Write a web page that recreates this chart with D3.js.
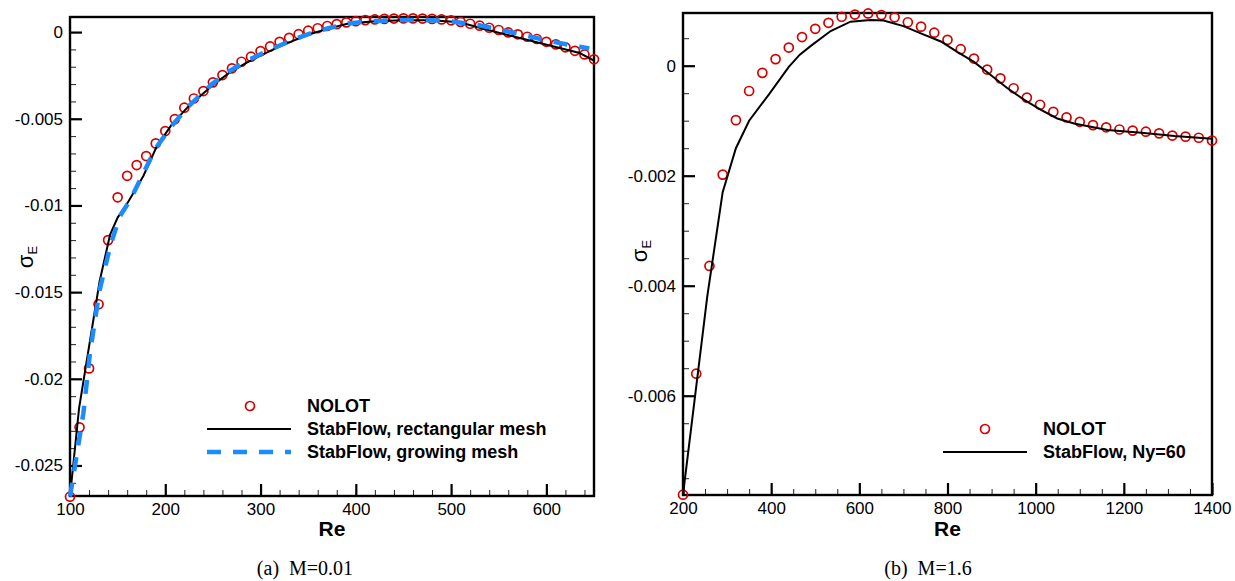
<!DOCTYPE html>
<html>
<head>
<meta charset="utf-8">
<script src="https://cdn.jsdelivr.net/npm/d3@7"></script>
<style>
  body { margin: 0; background: #fff; }
  svg text { font-family: "Liberation Sans", Arial, Helvetica, sans-serif; }
</style>
</head>
<body>
<svg id="chart" width="1235" height="581"></svg>
<script>
// ---- panel (a): M=0.01 ----
const nolotReA = [100, 110, 120, 130, 140, 150, 160, 170, 180, 190,
                  200, 210, 220, 230, 240, 250, 260, 270, 280, 290,
                  300, 310, 320, 330, 340, 350, 360, 370, 380, 390,
                  400, 410, 420, 430, 440, 450, 460, 470, 480, 490,
                  500, 510, 520, 530, 540, 550, 560, 570, 580, 590,
                  600, 610, 620, 630, 640, 650];
const nolotSigmaA = [-0.0268, -0.0228, -0.0194, -0.0157, -0.0120, -0.00953, -0.00829, -0.00767, -0.00715, -0.00642,
                     -0.00571, -0.00502, -0.00436, -0.00383, -0.0034, -0.0029, -0.00248, -0.00209, -0.00171, -0.00142,
                     -0.0011, -0.00083, -0.00056, -0.00033, -0.00012, 0.00008, 0.00022, 0.00035, 0.00046, 0.00056,
                     0.00063, 0.00069, 0.00073, 0.00076, 0.00078, 0.00079, 0.00079, 0.00078, 0.00076, 0.00073,
                     0.00068, 0.00059, 0.00048, 0.00037, 0.00025, 0.00012, -0.00002, -0.00013, -0.00027, -0.0004,
                     -0.00056, -0.00071, -0.00088, -0.00108, -0.00129, -0.00157];

const rectReA = [100, 109.5, 131, 142, 150, 161, 177, 191, 206, 224, 249, 266, 284, 301, 319, 336, 354, 371, 392,
                 420, 450, 480, 509, 530, 551, 572, 593, 614, 635, 650];
const rectSigmaA = [-0.0268, -0.0217, -0.0144, -0.0117, -0.0107, -0.0098, -0.0083, -0.0066, -0.0054, -0.0043,
                    -0.0031, -0.0024, -0.0018, -0.00133, -0.00085, -0.00046, -0.00008, 0.0002, 0.0005,
                    0.00063, 0.00068, 0.00068, 0.00057, 0.00025, -0.00005, -0.00034, -0.00063, -0.00092, -0.00121, -0.00165];

const growReA = [100, 105, 114, 121, 131, 142, 152, 163, 177, 190, 207, 224, 249, 266, 284, 301, 319, 336, 354,
                 371, 392, 411, 441, 471, 495, 523, 551, 579, 607, 635, 645];
const growSigmaA = [-0.0268, -0.0251, -0.0220, -0.0185, -0.0149, -0.0124, -0.01065, -0.0097, -0.00815, -0.0067,
                    -0.0054, -0.0043, -0.0030, -0.0023, -0.0017, -0.00125, -0.0008, -0.0004, -0.00005,
                    0.00022, 0.0005, 0.0006, 0.00069, 0.00069, 0.00065, 0.00046, 0.00015, -0.00021, -0.00056, -0.00085, -0.00095];

const xTicksA = [100, 200, 300, 400, 500, 600];
const yTicksA = [0, -0.005, -0.01, -0.015, -0.02, -0.025];
const yTickLabelsA = ["0", "-0.005", "-0.01", "-0.015", "-0.02", "-0.025"];

// ---- panel (b): M=1.6 ----
const nolotReB = [200, 230, 260, 290, 320, 350, 380, 410, 440, 470,
                  500, 530, 560, 590, 620, 650, 680, 710, 740, 770,
                  800, 830, 860, 890, 920, 950, 980, 1010, 1040, 1070,
                  1100, 1130, 1160, 1190, 1220, 1250, 1280, 1310, 1340, 1370, 1400];
const nolotSigmaB = [-0.0078, -0.0056, -0.00364, -0.00198, -0.00099, -0.00046, -0.00013, 0.00012, 0.00033, 0.00052,
                     0.00067, 0.00078, 0.00089, 0.00093, 0.00095, 0.00092, 0.00088, 0.00079, 0.00071, 0.0006,
                     0.00047, 0.0003, 0.00013, -0.00007, -0.00023, -0.00041, -0.00058, -0.00071, -0.00084, -0.00094,
                     -0.00102, -0.00108, -0.00112, -0.00116, -0.00118, -0.0012, -0.00123, -0.00127, -0.00129, -0.00131, -0.00136];

const stabReB = [200, 255, 290, 320, 350, 395, 440, 465, 490, 535, 580, 625, 655, 700, 745, 785, 822, 860, 898, 936,
                 974, 1011, 1049, 1087, 1125, 1163, 1240, 1315, 1400];
const stabSigmaB = [-0.0078, -0.0042, -0.0023, -0.0015, -0.0010, -0.00052, -0.00002, 0.0002, 0.00036, 0.00063, 0.0008, 0.00083,
                    0.00082, 0.00072, 0.00057, 0.00044, 0.00025, 0.00007, -0.00017, -0.00041, -0.00062, -0.0008,
                    -0.00096, -0.00105, -0.00111, -0.00117, -0.00122, -0.00128, -0.00133];

const xTicksB = [200, 400, 600, 800, 1000, 1200, 1400];
const yTicksB = [0, -0.002, -0.004, -0.006];
const yTickLabelsB = ["0", "-0.002", "-0.004", "-0.006"];

const red = "#d40000", blue = "#1a8cff";
const svg = d3.select("#chart");

function zip(a, b) { return a.map((v, i) => [v, b[i]]); }

function drawPanel(p) {
  const g = svg.append("g");
  const x = d3.scaleLinear().domain(p.xDomain).range([p.left, p.right]);
  const y = d3.scaleLinear().domain(p.yDomain).range([p.bottom, p.top]);

  // minor ticks
  g.append("g").attr("transform", `translate(0,${p.bottom})`)
    .call(d3.axisBottom(x).tickValues(p.xMinor).tickSize(-6).tickSizeOuter(0).tickFormat(""))
    .call(a => a.select(".domain").remove())
    .call(a => a.selectAll("line").attr("stroke", "#222").attr("stroke-width", 1));
  g.append("g").attr("transform", `translate(${p.left},0)`)
    .call(d3.axisLeft(y).tickValues(p.yMinor).tickSize(-6).tickSizeOuter(0).tickFormat(""))
    .call(a => a.select(".domain").remove())
    .call(a => a.selectAll("line").attr("stroke", "#222").attr("stroke-width", 1));

  // major ticks
  g.append("g").attr("transform", `translate(0,${p.bottom})`)
    .call(d3.axisBottom(x).tickValues(p.xTicks).tickSize(-12).tickSizeOuter(0).tickPadding(7)
      .tickFormat(d => String(d)))
    .call(a => a.select(".domain").remove())
    .call(a => a.selectAll("line").attr("stroke", "#000").attr("stroke-width", 2.2))
    .call(a => a.selectAll("text").attr("font-size", 17).attr("fill", "#000")
      .style("font-family", "'Liberation Sans', Arial, sans-serif"));
  g.append("g").attr("transform", `translate(${p.left},0)`)
    .call(d3.axisLeft(y).tickValues(p.yTicks).tickSize(-12).tickSizeOuter(0).tickPadding(7)
      .tickFormat((d, i) => p.yTickLabels[i]))
    .call(a => a.select(".domain").remove())
    .call(a => a.selectAll("line").attr("stroke", "#000").attr("stroke-width", 2.2))
    .call(a => a.selectAll("text").attr("font-size", 17).attr("fill", "#000")
      .style("font-family", "'Liberation Sans', Arial, sans-serif"));

  // frame
  g.append("rect")
    .attr("x", p.left).attr("y", p.top)
    .attr("width", p.right - p.left).attr("height", p.bottom - p.top)
    .attr("fill", "none").attr("stroke", "#000").attr("stroke-width", 2.4);

  const line = d3.line().x(d => x(d[0])).y(d => y(d[1]));

  // symbols
  g.append("g").selectAll("circle")
    .data(zip(p.nolotRe, p.nolotSigma))
    .join("circle")
    .attr("cx", d => x(d[0])).attr("cy", d => y(d[1])).attr("r", 4.5)
    .attr("fill", "none").attr("stroke", red).attr("stroke-width", 1.7);

  p.lines.forEach(s => {
    g.append("path").datum(zip(s.re, s.sigma))
      .attr("d", line).attr("fill", "none")
      .attr("stroke", s.color).attr("stroke-width", s.width)
      .attr("stroke-dasharray", s.dash || null);
  });

  // legend
  const lg = g.append("g").attr("transform", `translate(${p.legend[0]},${p.legend[1]})`);
  lg.append("circle").attr("cx", p.legendSym).attr("cy", 0).attr("r", 4.5)
    .attr("fill", "none").attr("stroke", red).attr("stroke-width", 1.7);
  lg.append("text").attr("x", 100).attr("y", 0).attr("dy", "0.35em")
    .attr("font-size", 18).attr("font-weight", "bold").text("NOLOT");
  p.lines.forEach((s, i) => {
    const yy = 23 * (i + 1);
    lg.append("line").attr("x1", 0).attr("x2", 84).attr("y1", yy).attr("y2", yy)
      .attr("stroke", s.color).attr("stroke-width", s.width)
      .attr("stroke-dasharray", s.dash || null);
    lg.append("text").attr("x", 100).attr("y", yy).attr("dy", "0.35em")
      .attr("font-size", 18).attr("font-weight", "bold").text(s.name);
  });

  // axis titles
  g.append("text").attr("x", (p.left + p.right) / 2).attr("y", 536)
    .attr("text-anchor", "middle").attr("font-size", 21).attr("font-weight", "bold").text("Re");
  const yl = g.append("text")
    .attr("transform", `translate(${p.yLabel[0]},${p.yLabel[1]}) rotate(-90)`)
    .attr("text-anchor", "middle").attr("font-size", 22);
  yl.append("tspan").text("σ");
  yl.append("tspan").attr("font-size", 13).attr("dy", 4).text("E");

  g.append("text").attr("x", p.caption[0]).attr("y", 575)
    .attr("text-anchor", "middle").attr("font-size", 20)
    .attr("xml:space", "preserve")
    .style("font-family", "'Liberation Serif', 'Times New Roman', serif")
    .text(p.captionText);
}

drawPanel({
  left: 70, right: 594, top: 17, bottom: 496,
  xDomain: [100, 650], yDomain: [-0.02676, 0.00087],
  xTicks: xTicksA, xMinor: d3.range(100, 651, 20),
  yTicks: yTicksA, yTickLabels: yTickLabelsA, yMinor: d3.range(-0.026, 0.0005, 0.001),
  nolotRe: nolotReA, nolotSigma: nolotSigmaA,
  lines: [
    { name: "StabFlow, rectangular mesh", re: rectReA, sigma: rectSigmaA, color: "#000", width: 2 },
    { name: "StabFlow, growing mesh", re: growReA, sigma: growSigmaA, color: blue, width: 4.5, dash: "14,12" }
  ],
  legend: [207, 406], legendSym: 43,
  yLabel: [33, 257], caption: [305, 575], captionText: "(a)  M=0.01"
});

drawPanel({
  left: 683, right: 1212, top: 13, bottom: 495,
  xDomain: [200, 1400], yDomain: [-0.007805, 0.000958],
  xTicks: xTicksB, xMinor: d3.range(200, 1401, 50),
  yTicks: yTicksB, yTickLabels: yTickLabelsB, yMinor: d3.range(-0.0075, 0.0008, 0.0005),
  nolotRe: nolotReB, nolotSigma: nolotSigmaB,
  lines: [
    { name: "StabFlow, Ny=60", re: stabReB, sigma: stabSigmaB, color: "#000", width: 2 }
  ],
  legend: [943, 429], legendSym: 42,
  yLabel: [647, 251], caption: [928, 575], captionText: "(b)  M=1.6"
});
</script>
</body>
</html>
